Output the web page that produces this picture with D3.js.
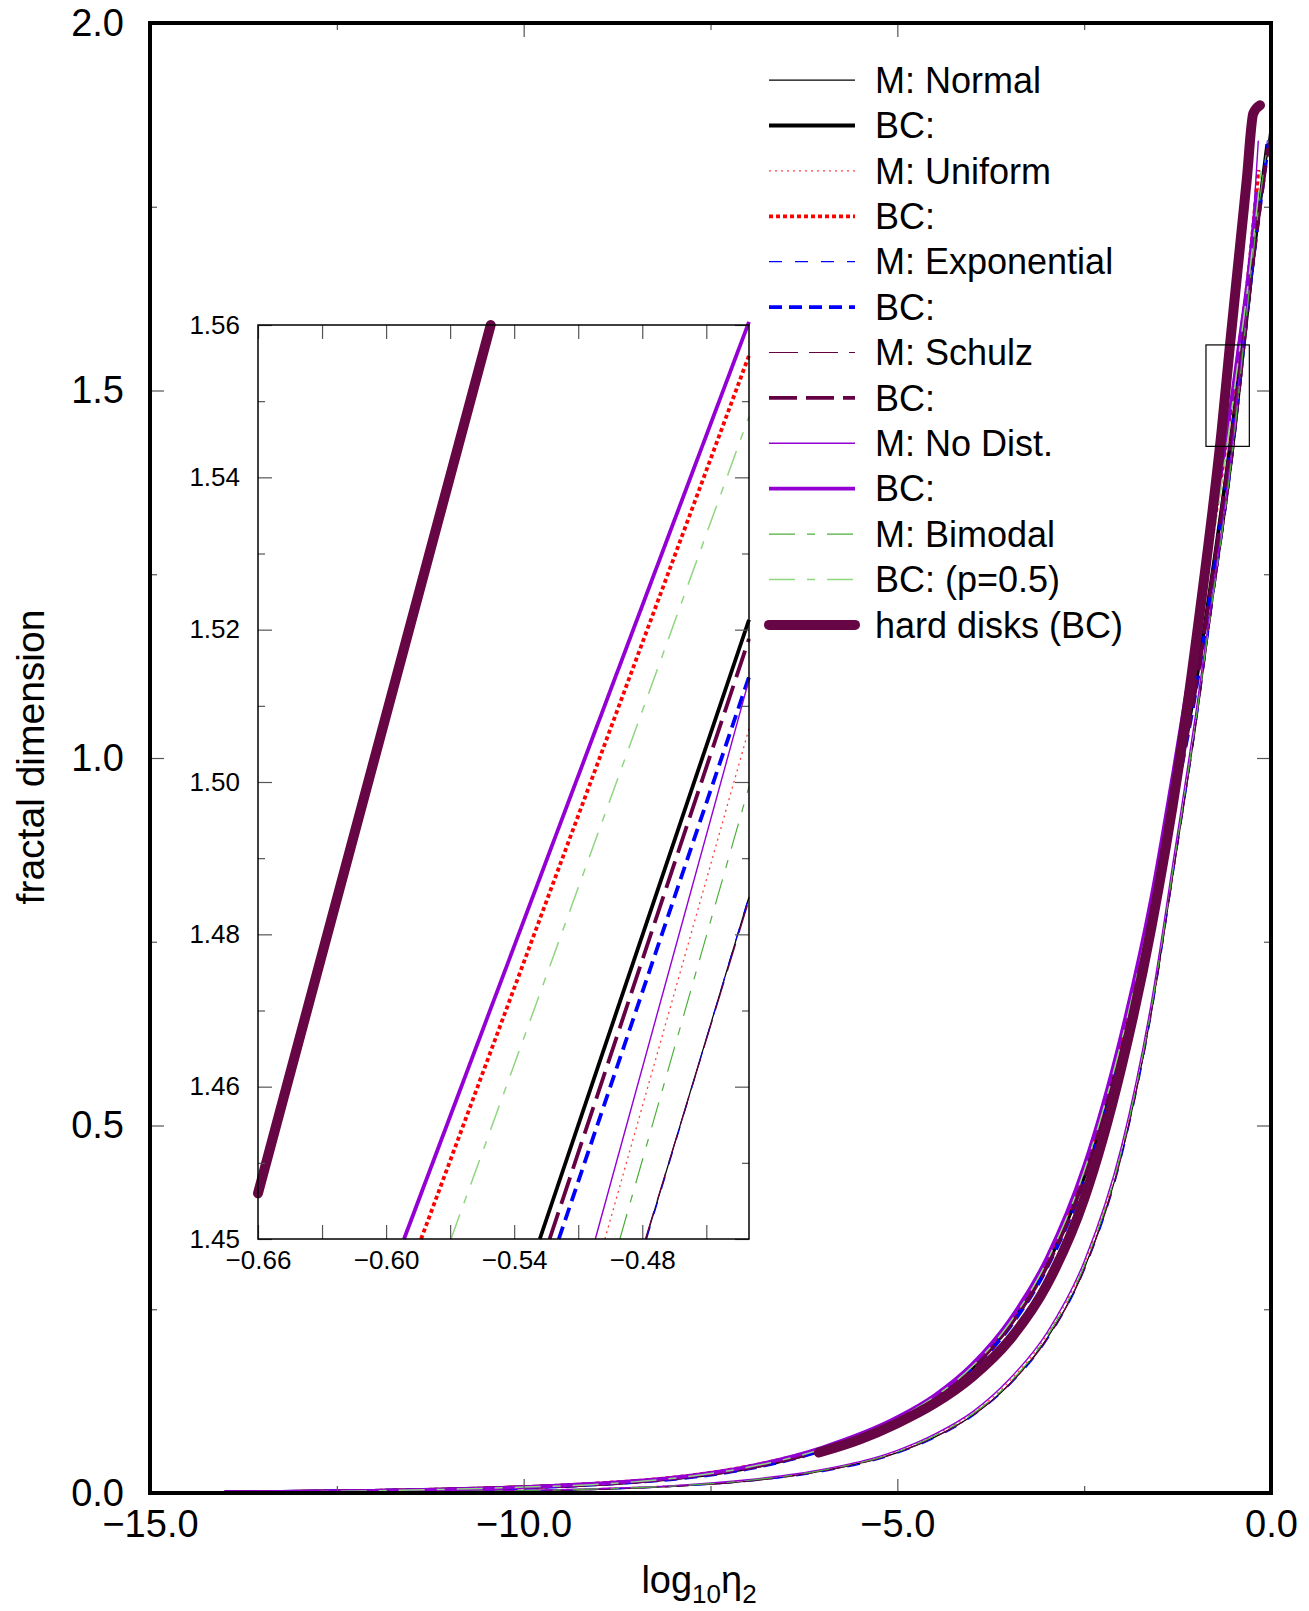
<!DOCTYPE html>
<html><head><meta charset="utf-8">
<script src="https://cdn.jsdelivr.net/npm/d3@7"></script>
<style>
body{margin:0;background:#fff;}
svg{display:block;}
</style>
</head><body>
<svg id="chart" width="1309" height="1611"></svg>
<script>
// ---------------- data ----------------
const xTickValues = [-15, -10, -5, 0];
const xMinorTickValues = [-12.5, -7.5, -2.5];
const yTickValues = [0, 0.5, 1.0, 1.5, 2.0];
const yMinorTickValues = [0.25, 0.75, 1.25, 1.75];

const insetXTickValues = [-0.66, -0.63, -0.60, -0.57, -0.54, -0.51, -0.48, -0.45];
const insetXLabelValues = [-0.66, -0.60, -0.54, -0.48];
const insetYTickValues = [1.44, 1.46, 1.48, 1.50, 1.52, 1.54, 1.56];
const insetYTickLabels = ["1.45", "1.46", "1.48", "1.50", "1.52", "1.54", "1.56"];
const insetYMinorTickValues = [1.45, 1.47, 1.49, 1.51, 1.53, 1.55];

const zoomBox = [[-0.87, 1.424], [-0.29, 1.562]];

const seriesNames = ["M: Normal", "BC:", "M: Uniform", "BC:", "M: Exponential", "BC:",
  "M: Schulz", "BC:", "M: No Dist.", "BC:", "M: Bimodal", "BC: (p=0.5)", "hard disks (BC)"];

const mNormal = [[-14,0.0005],[-12,0.001],[-10,0.003],[-9,0.005],[-8,0.009],[-7,0.016],[-6,0.03],[-5,0.055],[-4.5,0.076],[-4,0.105],[-3.5,0.148],[-3,0.21],[-2.5,0.305],[-2,0.46],[-1.6,0.655],[-1.3,0.85],[-1.0,1.05],[-0.8,1.20],[-0.4783,1.44],[-0.43,1.4849],[-0.2,1.70],[-0.02,1.85]];
const bcNormal = [[-14,0.001],[-12,0.003],[-10,0.008],[-9,0.012],[-8,0.02],[-7,0.034],[-6,0.059],[-5,0.099],[-4.5,0.129],[-4,0.17],[-3.5,0.228],[-3,0.31],[-2.5,0.43],[-2,0.605],[-1.6,0.78],[-1.3,0.945],[-1.0,1.105],[-0.8,1.24],[-0.528,1.44],[-0.43,1.5213],[-0.25,1.675],[-0.05,1.835]];
const mUniform = [[-14,0.0006],[-12,0.0012],[-10,0.0034],[-9,0.006],[-8,0.01],[-7,0.017],[-6,0.031],[-5,0.057],[-4.5,0.079],[-4,0.108],[-3.5,0.152],[-3,0.215],[-2.5,0.312],[-2,0.468],[-1.6,0.664],[-1.3,0.86],[-1.0,1.06],[-0.8,1.207],[-0.4975,1.44],[-0.43,1.507],[-0.3,1.63],[-0.15,1.80]];
const bcUniform = [[-14,0.001],[-12,0.003],[-10,0.008],[-9,0.013],[-8,0.021],[-7,0.036],[-6,0.061],[-5,0.102],[-4.5,0.132],[-4,0.174],[-3.5,0.233],[-3,0.318],[-2.5,0.442],[-2,0.62],[-1.6,0.805],[-1.3,0.978],[-1.0,1.162],[-0.8,1.292],[-0.5836,1.44],[-0.43,1.556],[-0.3,1.66],[-0.17,1.80]];
const mExponential = [[-14,0.0005],[-12,0.001],[-10,0.003],[-9,0.005],[-8,0.009],[-7,0.016],[-6,0.029],[-5,0.054],[-4.5,0.075],[-4,0.104],[-3.5,0.147],[-3,0.208],[-2.5,0.303],[-2,0.457],[-1.6,0.652],[-1.3,0.848],[-1.0,1.048],[-0.8,1.198],[-0.478,1.44],[-0.43,1.485],[-0.2,1.70],[-0.02,1.85]];
const bcExponential = [[-14,0.001],[-12,0.003],[-10,0.007],[-9,0.012],[-8,0.019],[-7,0.033],[-6,0.058],[-5,0.098],[-4.5,0.127],[-4,0.168],[-3.5,0.225],[-3,0.306],[-2.5,0.425],[-2,0.598],[-1.6,0.772],[-1.3,0.935],[-1.0,1.095],[-0.8,1.23],[-0.5191,1.44],[-0.43,1.5138],[-0.25,1.668],[-0.03,1.84]];
const mSchulz = [[-14,0.0005],[-12,0.001],[-10,0.003],[-9,0.005],[-8,0.009],[-7,0.016],[-6,0.03],[-5,0.055],[-4.5,0.076],[-4,0.105],[-3.5,0.148],[-3,0.209],[-2.5,0.304],[-2,0.459],[-1.6,0.654],[-1.3,0.849],[-1.0,1.049],[-0.8,1.199],[-0.4785,1.44],[-0.43,1.4845],[-0.2,1.698],[-0.03,1.84]];
const bcSchulz = [[-14,0.001],[-12,0.003],[-10,0.008],[-9,0.012],[-8,0.02],[-7,0.034],[-6,0.059],[-5,0.099],[-4.5,0.128],[-4,0.169],[-3.5,0.227],[-3,0.308],[-2.5,0.428],[-2,0.602],[-1.6,0.776],[-1.3,0.94],[-1.0,1.10],[-0.8,1.235],[-0.5234,1.44],[-0.43,1.5188],[-0.25,1.672],[-0.04,1.83]];
const mNoDist = [[-14,0.0006],[-12,0.0012],[-10,0.0035],[-9,0.006],[-8,0.01],[-7,0.018],[-6,0.032],[-5,0.058],[-4.5,0.08],[-4,0.11],[-3.5,0.155],[-3,0.218],[-2.5,0.315],[-2,0.472],[-1.6,0.668],[-1.3,0.865],[-1.0,1.065],[-0.8,1.21],[-0.502,1.44],[-0.43,1.5134],[-0.3,1.64],[-0.17,1.84]];
const bcNoDist = [[-14,0.001],[-12,0.003],[-10,0.008],[-9,0.013],[-8,0.021],[-7,0.036],[-6,0.062],[-5,0.103],[-4.5,0.133],[-4,0.175],[-3.5,0.235],[-3,0.32],[-2.5,0.445],[-2,0.625],[-1.6,0.81],[-1.3,0.985],[-1.0,1.17],[-0.8,1.30],[-0.5916,1.44],[-0.43,1.5604],[-0.3,1.66],[-0.19,1.77]];
const mBimodal = [[-14,0.0006],[-12,0.0012],[-10,0.0033],[-9,0.0055],[-8,0.0095],[-7,0.017],[-6,0.031],[-5,0.056],[-4.5,0.078],[-4,0.107],[-3.5,0.15],[-3,0.213],[-2.5,0.309],[-2,0.465],[-1.6,0.66],[-1.3,0.856],[-1.0,1.055],[-0.8,1.203],[-0.4905,1.44],[-0.43,1.4994],[-0.2,1.72],[-0.04,1.84]];
const bcBimodal = [[-14,0.001],[-12,0.003],[-10,0.008],[-9,0.012],[-8,0.02],[-7,0.035],[-6,0.06],[-5,0.101],[-4.5,0.131],[-4,0.172],[-3.5,0.231],[-3,0.315],[-2.5,0.438],[-2,0.615],[-1.6,0.798],[-1.3,0.97],[-1.0,1.152],[-0.8,1.282],[-0.5696,1.44],[-0.43,1.548],[-0.3,1.65],[-0.12,1.81]];
const hardDisks = [[-6.05,0.055],[-5.5,0.073],[-5,0.095],[-4.5,0.122],[-4,0.158],[-3.5,0.208],[-3,0.283],[-2.5,0.40],[-2,0.58],[-1.6,0.77],[-1.24,0.985],[-0.95,1.20],[-0.683,1.424],[-0.66,1.446],[-0.551,1.56],[-0.415,1.696],[-0.325,1.786],[-0.237,1.877],[-0.147,1.888]];

const seriesData = [mNormal, bcNormal, mUniform, bcUniform, mExponential, bcExponential,
  mSchulz, bcSchulz, mNoDist, bcNoDist, mBimodal, bcBimodal, hardDisks];

// ---------------- styles ----------------
const styles = [
  {color:"#000000", width:1.2, dash:null},
  {color:"#000000", width:3.8, dash:null},
  {color:"#ff4040", width:1.3, dash:"2,4"},
  {color:"#ff0000", width:3.8, dash:"4,3"},
  {color:"#0000ff", width:1.2, dash:"13,13"},
  {color:"#0000ff", width:3.8, dash:"13,7"},
  {color:"#660044", width:1.2, dash:"29,11"},
  {color:"#660044", width:3.8, dash:"28,9"},
  {color:"#9400d3", width:1.4, dash:null},
  {color:"#9400d3", width:3.8, dash:null},
  {color:"#4caf3c", width:1.2, dash:"26,12,8,12"},
  {color:"#8fd680", width:1.5, dash:"26,12,8,12"},
  {color:"#660645", width:10, dash:null, cap:"round"}
];
const FONT = "'Liberation Sans', Arial, Helvetica, sans-serif";

const svg = d3.select("#chart");
svg.append("rect").attr("width",1309).attr("height",1611).attr("fill","#fff");

const P = {left:150, right:1271, top:23, bottom:1493};
const x = d3.scaleLinear().domain([-15,0]).range([P.left,P.right]);
const y = d3.scaleLinear().domain([0,2]).range([P.bottom,P.top]);

svg.append("defs").append("clipPath").attr("id","plotClip").append("rect")
  .attr("x",P.left).attr("y",P.top).attr("width",P.right-P.left).attr("height",P.bottom-P.top);

function applyStyle(sel, st){
  sel.attr("fill","none").attr("stroke",st.color).attr("stroke-width",st.width)
    .attr("stroke-dasharray",st.dash).attr("stroke-linecap",st.cap||"butt")
    .attr("stroke-linejoin","round");
}

// main curves
const line = d3.line().x(d=>x(d[0])).y(d=>y(d[1])).curve(d3.curveMonotoneX);
const gCurves = svg.append("g").attr("clip-path","url(#plotClip)");
seriesData.forEach((data,i)=>{
  gCurves.append("path").datum(data).attr("d",line).call(applyStyle, styles[i]);
});

// zoom box
svg.append("rect")
  .attr("x",x(zoomBox[0][0])).attr("y",y(zoomBox[1][1]))
  .attr("width",x(zoomBox[1][0])-x(zoomBox[0][0]))
  .attr("height",y(zoomBox[0][1])-y(zoomBox[1][1]))
  .attr("fill","none").attr("stroke","#000").attr("stroke-width",1.2);

function styleAxis(g, size){
  g.select(".domain").remove();
  g.selectAll(".tick line").attr("stroke","#555").attr("stroke-width",1.2);
  g.attr("font-family",FONT).attr("font-size",size);
  g.selectAll("text").attr("fill","#000");
}
const fmt1 = d3.format(".1f");

// main axes
svg.append("g").attr("transform",`translate(0,${P.bottom})`)
  .call(d3.axisBottom(x).tickValues(xTickValues).tickSize(-14).tickPadding(17).tickFormat(fmt1))
  .call(g=>styleAxis(g,38));
svg.append("g").attr("transform",`translate(0,${P.bottom})`)
  .call(d3.axisBottom(x).tickValues(xMinorTickValues).tickSize(-7).tickFormat(""))
  .call(g=>styleAxis(g,38));
svg.append("g").attr("transform",`translate(0,${P.top})`)
  .call(d3.axisTop(x).tickValues(xTickValues).tickSize(-14).tickFormat(""))
  .call(g=>styleAxis(g,38));
svg.append("g").attr("transform",`translate(0,${P.top})`)
  .call(d3.axisTop(x).tickValues(xMinorTickValues).tickSize(-7).tickFormat(""))
  .call(g=>styleAxis(g,38));
svg.append("g").attr("transform",`translate(${P.left},0)`)
  .call(d3.axisLeft(y).tickValues(yTickValues).tickSize(-14).tickPadding(26).tickFormat(fmt1))
  .call(g=>styleAxis(g,38));
svg.append("g").attr("transform",`translate(${P.left},0)`)
  .call(d3.axisLeft(y).tickValues(yMinorTickValues).tickSize(-7).tickFormat(""))
  .call(g=>styleAxis(g,38));
svg.append("g").attr("transform",`translate(${P.right},0)`)
  .call(d3.axisRight(y).tickValues(yTickValues).tickSize(-14).tickFormat(""))
  .call(g=>styleAxis(g,38));
svg.append("g").attr("transform",`translate(${P.right},0)`)
  .call(d3.axisRight(y).tickValues(yMinorTickValues).tickSize(-7).tickFormat(""))
  .call(g=>styleAxis(g,38));

// main frame
svg.append("rect").attr("x",P.left).attr("y",P.top)
  .attr("width",P.right-P.left).attr("height",P.bottom-P.top)
  .attr("fill","none").attr("stroke","#000").attr("stroke-width",4);

// axis titles
svg.append("text").attr("transform","translate(44,757) rotate(-90)")
  .attr("text-anchor","middle").attr("font-family",FONT).attr("font-size",39)
  .text("fractal dimension");
const xt = svg.append("text").attr("x",699).attr("y",1593).attr("text-anchor","middle")
  .attr("font-family",FONT).attr("font-size",38);
xt.append("tspan").text("log");
xt.append("tspan").attr("font-size",26).attr("dy",10).text("10");
xt.append("tspan").attr("dy",-10).text("η");
xt.append("tspan").attr("font-size",26).attr("dy",10).text("2");

// ---------------- inset ----------------
const I = {left:258, right:749, top:325, bottom:1239};
const ix = d3.scaleLinear().domain([-0.66,-0.43]).range([I.left,I.right]);
const iy = d3.scaleLinear().domain([1.44,1.56]).range([I.bottom,I.top]);
const gi = svg.append("g");
gi.append("rect").attr("x",I.left).attr("y",I.top).attr("width",I.right-I.left)
  .attr("height",I.bottom-I.top).attr("fill","#fff");

const iline = d3.line().x(d=>ix(d[0])).y(d=>iy(d[1]));
const tol = 0.002;
seriesData.forEach((data,i)=>{
  const pts = data.filter(d=> d[0]>=-0.66-tol && d[0]<=-0.43+tol && d[1]>=1.44-tol && d[1]<=1.56+tol);
  if(pts.length>1){
    gi.append("path").datum(pts).attr("d",iline).call(applyStyle, styles[i]);
  }
});

const fmt2 = d3.format(".2f");
const isLabel = d => insetXLabelValues.some(v=>Math.abs(v-d)<1e-9);
gi.append("g").attr("transform",`translate(0,${I.bottom})`)
  .call(d3.axisBottom(ix).tickValues(insetXTickValues).tickSize(-14).tickPadding(12)
    .tickFormat(d=> isLabel(d) ? fmt2(d) : ""))
  .call(g=>styleAxis(g,26));
gi.append("g").attr("transform",`translate(0,${I.top})`)
  .call(d3.axisTop(ix).tickValues(insetXTickValues).tickSize(-14).tickFormat(""))
  .call(g=>styleAxis(g,26));
gi.append("g").attr("transform",`translate(${I.left},0)`)
  .call(d3.axisLeft(iy).tickValues(insetYTickValues).tickSize(-14).tickPadding(18)
    .tickFormat((d,i)=>insetYTickLabels[i]))
  .call(g=>styleAxis(g,26));
gi.append("g").attr("transform",`translate(${I.left},0)`)
  .call(d3.axisLeft(iy).tickValues(insetYMinorTickValues).tickSize(-7).tickFormat(""))
  .call(g=>styleAxis(g,26));
gi.append("g").attr("transform",`translate(${I.right},0)`)
  .call(d3.axisRight(iy).tickValues(insetYTickValues).tickSize(-14).tickFormat(""))
  .call(g=>styleAxis(g,26));
gi.append("g").attr("transform",`translate(${I.right},0)`)
  .call(d3.axisRight(iy).tickValues(insetYMinorTickValues).tickSize(-7).tickFormat(""))
  .call(g=>styleAxis(g,26));
gi.append("rect").attr("x",I.left).attr("y",I.top).attr("width",I.right-I.left)
  .attr("height",I.bottom-I.top).attr("fill","none").attr("stroke","#000").attr("stroke-width",1.5);

// ---------------- legend ----------------
const L = {x1:769, x2:855, tx:875, y0:80.1, dy:45.4};
const gl = svg.append("g");
seriesNames.forEach((name,i)=>{
  const yy = L.y0 + i*L.dy;
  const st = styles[i];
  gl.append("line").attr("x1",L.x1).attr("x2",L.x2).attr("y1",yy).attr("y2",yy)
    .call(applyStyle, st);
  gl.append("text").attr("x",L.tx).attr("y",yy+12.7).attr("font-family",FONT)
    .attr("font-size",36).attr("fill","#000").text(name);
});
</script>
</body></html>
